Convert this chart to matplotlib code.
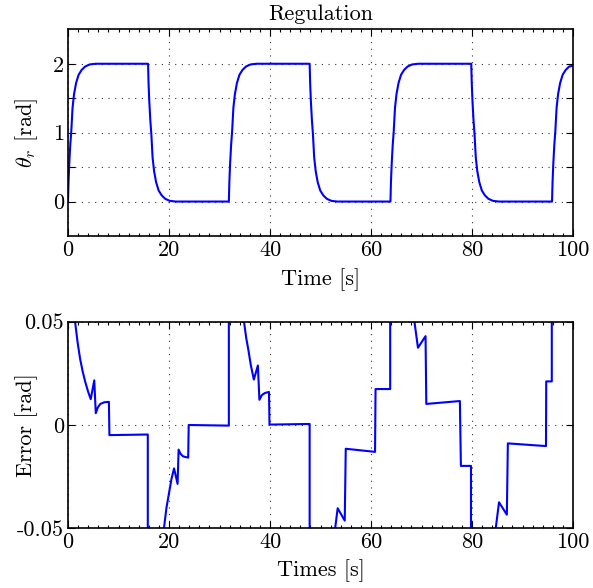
import matplotlib
matplotlib.use("Agg")
import matplotlib.pyplot as plt
from matplotlib.ticker import MultipleLocator

plt.rcParams['font.family'] = 'serif'
plt.rcParams['font.serif'] = ['cmr10', 'DejaVu Serif']
plt.rcParams['mathtext.fontset'] = 'cm'
plt.rcParams['axes.unicode_minus'] = False

# ---- data: regulated angle theta_r (top) ----
theta_t = [
    0.0, 0.1, 0.25, 0.45, 0.65, 0.9, 1.2, 1.6, 2.1, 2.7, 3.4, 4.3, 5.5,
    15.85, 15.95, 16.1, 16.3, 16.5, 16.75, 17.05, 17.45, 17.95, 18.55, 19.25, 20.15, 21.35,
    31.85, 31.95, 32.1, 32.3, 32.5, 32.75, 33.05, 33.45, 33.95, 34.55, 35.25, 36.15, 37.35,
    47.85, 47.95, 48.1, 48.3, 48.5, 48.75, 49.05, 49.45, 49.95, 50.55, 51.25, 52.15, 53.35,
    63.85, 63.95, 64.1, 64.3, 64.5, 64.75, 65.05, 65.45, 65.95, 66.55, 67.25, 68.15, 69.35,
    79.85, 79.95, 80.1, 80.3, 80.5, 80.75, 81.05, 81.45, 81.95, 82.55, 83.25, 84.15, 85.35,
    95.85, 95.95, 96.1, 96.3, 96.5, 96.75, 97.05, 97.45, 97.95, 98.55, 99.25, 100.0,
]
theta_v = [
    0.0, 0.28, 0.55, 0.82, 1.02, 1.36, 1.56, 1.72, 1.84, 1.91, 1.96, 1.99, 2.0,
    2.0, 1.72, 1.45, 1.18, 0.98, 0.64, 0.44, 0.28, 0.16, 0.09, 0.04, 0.01, 0.0,
    0.0, 0.28, 0.55, 0.82, 1.02, 1.36, 1.56, 1.72, 1.84, 1.91, 1.96, 1.99, 2.0,
    2.0, 1.72, 1.45, 1.18, 0.98, 0.64, 0.44, 0.28, 0.16, 0.09, 0.04, 0.01, 0.0,
    0.0, 0.28, 0.55, 0.82, 1.02, 1.36, 1.56, 1.72, 1.84, 1.91, 1.96, 1.99, 2.0,
    2.0, 1.72, 1.45, 1.18, 0.98, 0.64, 0.44, 0.28, 0.16, 0.09, 0.04, 0.01, 0.0,
    0.0, 0.28, 0.55, 0.82, 1.02, 1.36, 1.56, 1.72, 1.84, 1.91, 1.96, 1.97,
]

# ---- data: error (bottom) ----
err_t = [0.0, 1.0, 1.4, 1.9, 2.4, 2.9, 3.4, 4.0, 4.5, 5.2, 5.5, 5.9, 6.4, 7.2, 8.1, 8.2, 15.8,
         15.85, 18.0, 19.0, 19.5, 20.0, 20.5, 21.0, 21.7, 21.9, 22.3, 22.8, 23.8, 23.9, 31.85,
         31.9, 34.0, 34.85, 35.3, 35.7, 36.2, 36.8, 37.6, 37.9, 38.4, 39.0, 39.8, 39.9, 47.85,
         47.9, 52.0, 52.9, 53.4, 54.8, 55.0, 60.8, 60.9, 63.8,
         63.85, 67.5, 68.6, 69.3, 70.8, 70.95, 77.6, 77.8, 79.8,
         79.85, 83.8, 84.7, 85.35, 86.9, 87.1, 94.65, 94.7, 95.8,
         95.85, 100.0]
err_v = [2.0, 0.09, 0.05, 0.04, 0.032, 0.026, 0.021, 0.016, 0.0125, 0.0216, 0.0057, 0.0085, 0.0102, 0.011, 0.0112, -0.0049, -0.0046,
         -2.0, -0.09, -0.05, -0.04, -0.033, -0.026, -0.021, -0.0285, -0.0119, -0.014, -0.0152, -0.0158, 0.0, -0.0003,
         2.0, 0.085, 0.05, 0.042, 0.0366, 0.029, 0.022, 0.0288, 0.0122, 0.0145, 0.0155, 0.016, 0.0002, 0.0005,
         -2.0, -0.08, -0.05, -0.0403, -0.0463, -0.0115, -0.013, 0.0174, 0.0174,
         2.0, 0.08, 0.05, 0.0374, 0.043, 0.0102, 0.0116, -0.0198, -0.0198,
         -2.0, -0.08, -0.05, -0.0374, -0.0434, -0.0089, -0.0102, 0.0211, 0.0211,
         2.0, 0.3]

x_ticks = [0, 20, 40, 60, 80, 100]
top_yticks = [0, 0.5, 1, 1.5, 2]
top_ylabels = ['0', '', '1', '', '2']
bot_yticks = [-0.05, 0, 0.05]
bot_ylabels = ['-0.05', '0', '0.05']

fig = plt.figure(figsize=(5.93, 5.88), dpi=100)
W, H = 593, 588
ax1 = fig.add_axes([68 / W, 1 - 236 / H, (573 - 68) / W, (236 - 29.3) / H])
ax2 = fig.add_axes([68 / W, 1 - 528.3 / H, (573 - 68) / W, (528.3 - 321.7) / H])

fs = 16
for ax in (ax1, ax2):
    ax.set_xlim(0, 100)
    ax.set_xticks(x_ticks)
    ax.set_xticklabels([str(v) for v in x_ticks], fontsize=fs)
    ax.xaxis.set_minor_locator(MultipleLocator(2))
    ax.tick_params(which='both', direction='in', top=True, right=True, width=0.8)
    ax.tick_params(which='major', length=5, pad=3)
    ax.tick_params(which='minor', length=2.5)
    ax.grid(True, which='major', linestyle=(0, (1, 5)), color='#333333', linewidth=0.8)
    for s in ax.spines.values():
        s.set_linewidth(1.2)

ax1.plot(theta_t, theta_v, color='#0000ff', linewidth=1.5)
ax1.set_ylim(-0.5, 2.5)
ax1.set_yticks(top_yticks)
ax1.set_yticklabels(top_ylabels, fontsize=fs)
ax1.set_title('Regulation', fontsize=fs, pad=7)
ax1.set_xlabel('Time [s]', fontsize=fs, labelpad=6)
ax1.set_ylabel(r'$\theta_r$ [rad]', fontsize=fs)
ax1.yaxis.set_label_coords((40 - 68) / 505, 0.5)

ax2.plot(err_t, err_v, color='#0000ff', linewidth=1.5)
ax2.set_ylim(-0.05, 0.05)
ax2.set_yticks(bot_yticks)
ax2.set_yticklabels(bot_ylabels, fontsize=fs)
ax2.set_xlabel('Times [s]', fontsize=fs, labelpad=5)
ax2.set_ylabel('Error [rad]', fontsize=fs)
ax2.yaxis.set_label_coords((38 - 68) / 505, 0.5)

fig.savefig('out.png', dpi=100)
